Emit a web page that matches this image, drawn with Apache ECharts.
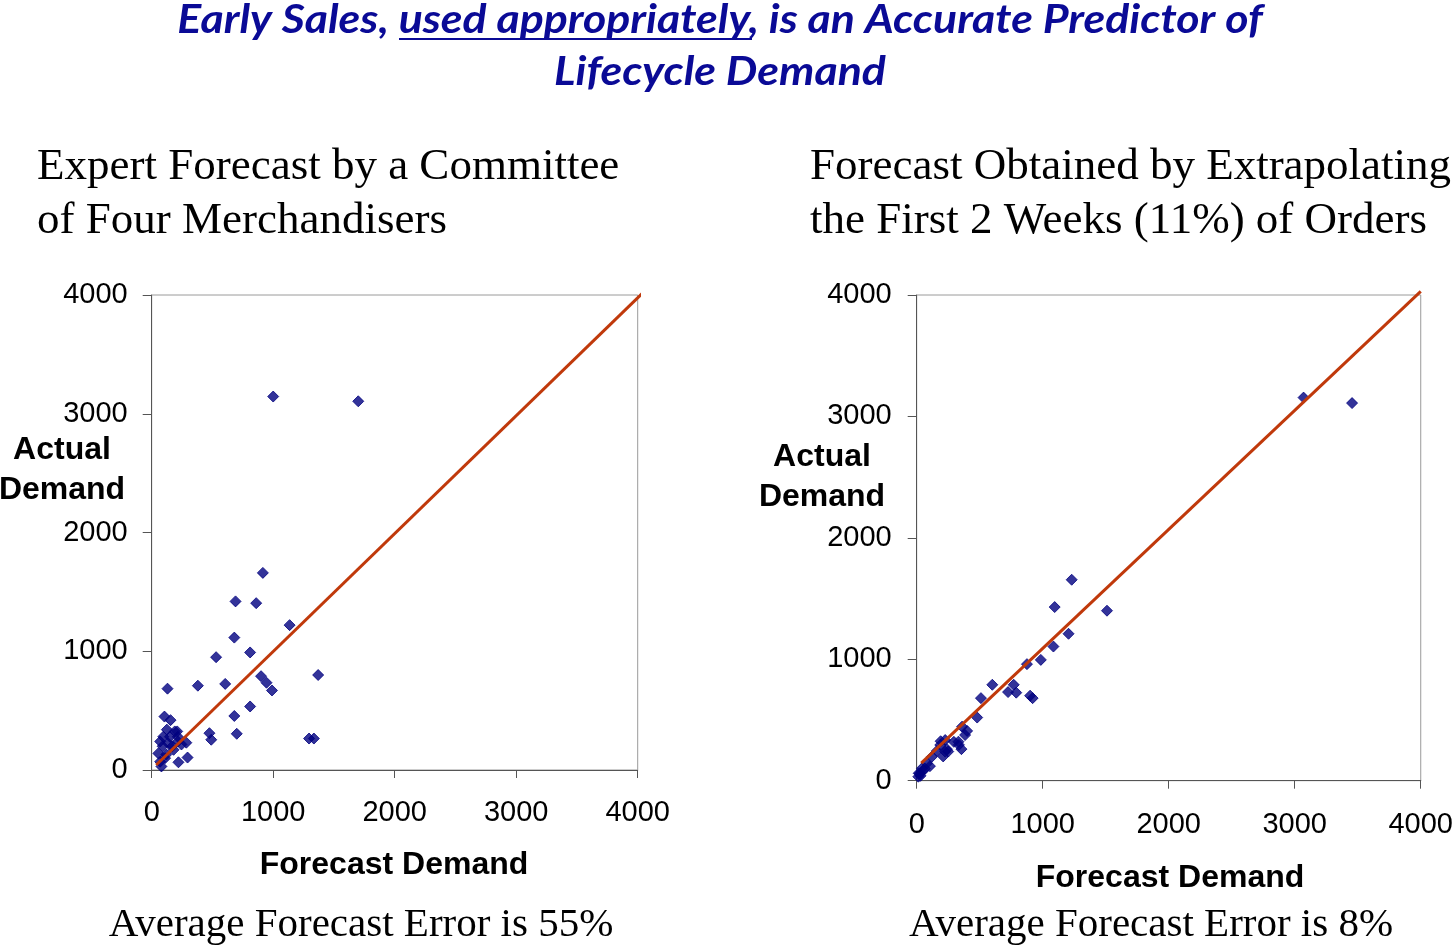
<!DOCTYPE html>
<html><head><meta charset="utf-8">
<script src="https://cdn.jsdelivr.net/npm/echarts@6/dist/echarts.min.js"></script>
<style>html,body{margin:0;padding:0;background:#fff}#c{width:1456px;height:947px}</style>
</head><body><div id="c"></div>
<script>
// ---- Data ----
const axisTicks = ['0', '1000', '2000', '3000', '4000'];
// Left: expert forecast (x) vs actual demand (y)
const leftForecast = [1000,1700,915,690,860,1135,680,810,530,1370,900,945,990,130,380,605,810,680,475,490,700,1295,1335,295,220,285,245,
  105,155,125,190,210,95,150,215,70,135,215,170,90,55,120,70,80,180,110];
const leftActual = [3145,3105,1660,1420,1405,1220,1115,990,950,800,790,735,670,685,710,725,535,455,310,255,305,265,265,105,65,230,215,
  450,420,340,325,325,280,280,280,240,225,240,200,200,140,130,70,30,170,100];
// Right: extrapolated forecast (x) vs actual demand (y)
const rightForecast = [3070,3455,1230,1095,1510,1205,1085,985,875,600,770,725,790,900,920,510,480,360,400,190,295,335,355,160,240,210,250,105,65,25,13,
  384,331,226,187,226,121,81,42,16,50,30];
const rightActual = [3155,3110,1655,1430,1400,1210,1105,995,960,790,790,730,725,700,680,680,520,445,410,325,320,295,260,245,260,200,240,120,100,60,33,
  376,321,335,294,239,198,143,102,61,80,40];
// Reference lines
const leftLineX = [37, 4052];
const leftLineY = [42, 4028];
const rightLineX = [36, 4000];
const rightLineY = [145, 4030];

const zip = (a, b) => a.map((v, i) => [v, b[i]]);
const fmt = v => axisTicks[Math.round(v / 1000)] !== undefined ? axisTicks[Math.round(v / 1000)] : String(v);

const chart = echarts.init(document.getElementById('c'), null, {renderer: 'canvas'});
const tickFont = {fontFamily: 'Liberation Sans, Arial, sans-serif', fontSize: 29, color: '#000', formatter: fmt};
function xAx(idx, margin) {
  return {gridIndex: idx, type: 'value', min: 0, max: 4000, interval: 1000,
    axisLine: {show: true, lineStyle: {color: '#555', width: 1}},
    axisTick: {show: true, inside: false, length: 8, lineStyle: {color: '#555'}},
    splitLine: {show: false},
    axisLabel: Object.assign({margin: margin}, tickFont)};
}
function yAx(idx, margin) {
  return {gridIndex: idx, type: 'value', min: 0, max: 4000, interval: 1000,
    axisLine: {show: true, lineStyle: {color: '#555', width: 1}},
    axisTick: {show: true, inside: false, length: 9, lineStyle: {color: '#555'}},
    splitLine: {show: false},
    axisLabel: Object.assign({margin: margin}, tickFont)};
}
const serif = 'Liberation Serif, Times New Roman, serif';
const sansB = 'Liberation Sans, Arial, sans-serif';
const titleColor = '#0a0a96';
const markerStyle = {color: '#000080', borderColor: '#000080', borderWidth: 1};

chart.setOption({
  animation: false,
  grid: [
    {left: 151.7, top: 295, width: 486, height: 475, show: true, borderColor: '#9a9a9a', borderWidth: 1, backgroundColor: 'transparent'},
    {left: 916.7, top: 295, width: 506.6, height: 485.7, show: true, borderColor: '#9a9a9a', borderWidth: 1, backgroundColor: 'transparent'}
  ],
  xAxis: [xAx(0, 28), xAx(1, 30)],
  yAxis: [yAx(0, 24), yAx(1, 25)],
  series: [
    {type: 'scatter', xAxisIndex: 0, yAxisIndex: 0, data: zip(leftForecast, leftActual),
      symbol: 'diamond', symbolSize: 11, itemStyle: markerStyle, z: 2},
    {type: 'line', xAxisIndex: 0, yAxisIndex: 0, data: zip(leftLineX, leftLineY), clip: false,
      symbol: 'none', lineStyle: {color: '#c0390b', width: 3}, z: 3},
    {type: 'scatter', xAxisIndex: 1, yAxisIndex: 1, data: zip(rightForecast, rightActual),
      symbol: 'diamond', symbolSize: 11, itemStyle: markerStyle, z: 2},
    {type: 'line', xAxisIndex: 1, yAxisIndex: 1, data: zip(rightLineX, rightLineY), clip: false,
      symbol: 'none', lineStyle: {color: '#c0390b', width: 3}, z: 3}
  ],
  graphic: [
    {type: 'group', x: 720, y: 0, scaleX: 1.115, children: [
      {type: 'text', x: 0, y: 0, style: {text: 'Early Sales, used appropriately, is an Accurate Predictor of',
        font: 'italic bold 40px Lato, sans-serif', fill: titleColor, align: 'center', verticalAlign: 'top'}},
      {type: 'text', x: 0, y: 52, style: {text: 'Lifecycle Demand',
        font: 'italic bold 40px Lato, sans-serif', fill: titleColor, align: 'center', verticalAlign: 'top'}}
    ]},
    {type: 'line', shape: {x1: 399, y1: 39, x2: 752, y2: 39}, style: {stroke: titleColor, lineWidth: 2}},

    {type: 'text', left: 37, top: 140, style: {text: 'Expert Forecast by a Committee\nof Four Merchandisers',
      font: '45px ' + serif, fill: '#000', lineHeight: 54}},
    {type: 'text', left: 810, top: 140, style: {text: 'Forecast Obtained by Extrapolating\nthe First 2 Weeks (11%) of Orders',
      font: '45px ' + serif, fill: '#000', lineHeight: 54}},

    {type: 'text', x: 62, y: 470, style: {text: 'Actual\nDemand', font: 'bold 32px ' + sansB, fill: '#000',
      align: 'center', verticalAlign: 'middle', lineHeight: 40}},
    {type: 'text', x: 822, y: 477, style: {text: 'Actual\nDemand', font: 'bold 32px ' + sansB, fill: '#000',
      align: 'center', verticalAlign: 'middle', lineHeight: 40}},

    {type: 'text', x: 394, y: 865, style: {text: 'Forecast Demand', font: 'bold 32px ' + sansB, fill: '#000',
      align: 'center', verticalAlign: 'middle'}},
    {type: 'text', x: 1170, y: 878, style: {text: 'Forecast Demand', font: 'bold 32px ' + sansB, fill: '#000',
      align: 'center', verticalAlign: 'middle'}},

    {type: 'text', x: 361, y: 925, style: {text: 'Average Forecast Error is 55%', font: '41px ' + serif, fill: '#000',
      align: 'center', verticalAlign: 'middle'}},
    {type: 'text', x: 1151, y: 925, style: {text: 'Average Forecast Error is 8%', font: '41px ' + serif, fill: '#000',
      align: 'center', verticalAlign: 'middle'}}
  ]
});
</script></body></html>
